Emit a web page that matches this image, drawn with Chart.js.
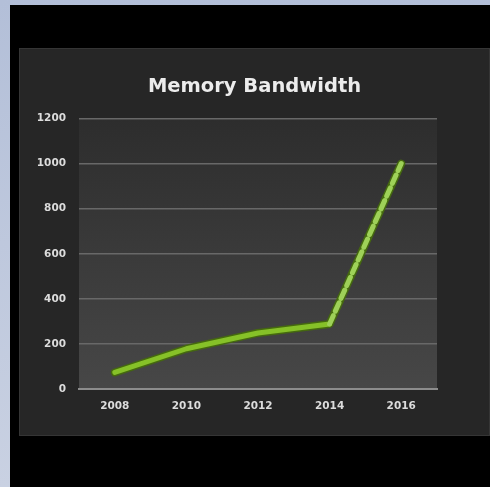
<!DOCTYPE html>
<html>
<head>
<meta charset="utf-8">
<script src="https://cdn.jsdelivr.net/npm/chart.js@4.4.0/dist/chart.umd.min.js"></script>
<style>
  html, body {
    margin: 0;
    padding: 0;
    width: 490px;
    height: 487px;
    overflow: hidden;
    background: linear-gradient(#b3bfd8, #c9d1e2);
  }
  .slide {
    position: absolute;
    left: 10px;
    top: 5px;
    width: 480px;
    height: 482px;
    background: #000;
  }
  .panel {
    position: absolute;
    left: 19px;
    top: 48px;
    width: 471px;
    height: 388px;
    background: #262626;
    box-shadow: inset 0 0 0 1px #353535;
  }
  canvas { display: block; }
</style>
</head>
<body>
<div class="slide"></div>
<div class="panel">
  <canvas id="bandwidthChart" width="471" height="388"></canvas>
</div>
<script>
// Memory bandwidth by year (GB/s); 2016 is a projection, drawn dashed
const years = ['2008', '2010', '2012', '2014', '2016'];
const bandwidth = [75, 180, 250, 290, 1000];
const yTicks = [0, 200, 400, 600, 800, 1000, 1200];
const projectedFrom = 3; // index where the dashed part starts

// Shaded plot background, darker at top
const plotBackground = {
  id: 'plotBackground',
  beforeDraw(chart) {
    const { ctx, chartArea: a } = chart;
    if (!a) return;
    const g = ctx.createLinearGradient(0, a.top, 0, a.bottom);
    g.addColorStop(0, '#2d2d2d');
    g.addColorStop(1, '#474747');
    ctx.save();
    ctx.fillStyle = g;
    ctx.fillRect(a.left, a.top, a.right - a.left, a.bottom - a.top);
    ctx.restore();
  }
};

const tickFont = { family: 'DejaVu Sans', size: 10.5, weight: 'bold' };

const ctx = document.getElementById('bandwidthChart').getContext('2d');
const chart = new Chart(ctx, {
  type: 'line',
  data: {
    labels: years,
    datasets: [{
      // bright line on top
      data: bandwidth,
      borderColor: '#86c128',
      borderWidth: 5,
      borderCapStyle: 'round',
      borderJoinStyle: 'round',
      pointRadius: 0,
      tension: 0,
      segment: {
        borderDash: c => c.p0DataIndex >= projectedFrom ? [9, 5] : undefined,
        borderColor: c => c.p0DataIndex >= projectedFrom ? '#9ed158' : undefined
      }
    }, {
      // darker green outline underneath
      data: bandwidth,
      borderColor: '#45690f',
      borderWidth: 8,
      borderCapStyle: 'round',
      borderJoinStyle: 'round',
      pointRadius: 0,
      tension: 0
    }]
  },
  options: {
    responsive: false,
    animation: false,
    layout: {
      padding: { top: 19, right: 0, bottom: 12, left: 0 }
    },
    scales: {
      x: {
        offset: true,
        grid: { display: false, drawTicks: false },
        border: { display: true, color: '#8c8c8c', width: 2 },
        ticks: {
          color: '#dcdcdc',
          padding: 11,
          maxRotation: 0,
          font: tickFont
        }
      },
      y: {
        min: 0,
        max: 1200,
        afterBuildTicks: scale => {
          scale.ticks = yTicks.map(v => ({ value: v }));
        },
        afterFit: scale => { scale.width = 60; },
        grid: {
          color: c => c.tick.value === 0 ? 'rgba(0,0,0,0)' : '#686868',
          lineWidth: 1.5,
          drawTicks: false
        },
        border: { display: false },
        ticks: {
          color: '#dcdcdc',
          padding: 13,
          font: tickFont,
          callback: v => String(v)
        }
      },
      // empty right-hand axis, keeps space beside the plot
      yRight: {
        position: 'right',
        min: 0,
        max: 1200,
        afterFit: scale => { scale.width = 53; },
        grid: { display: false, drawTicks: false },
        border: { display: false },
        ticks: { display: false }
      }
    },
    plugins: {
      legend: { display: false },
      tooltip: { enabled: false },
      title: {
        display: true,
        text: 'Memory Bandwidth',
        color: '#ececec',
        padding: { top: 8, bottom: 20 },
        font: { family: 'DejaVu Sans', size: 19.5, weight: 'bold' }
      }
    }
  },
  plugins: [plotBackground]
});
</script>
</body>
</html>
